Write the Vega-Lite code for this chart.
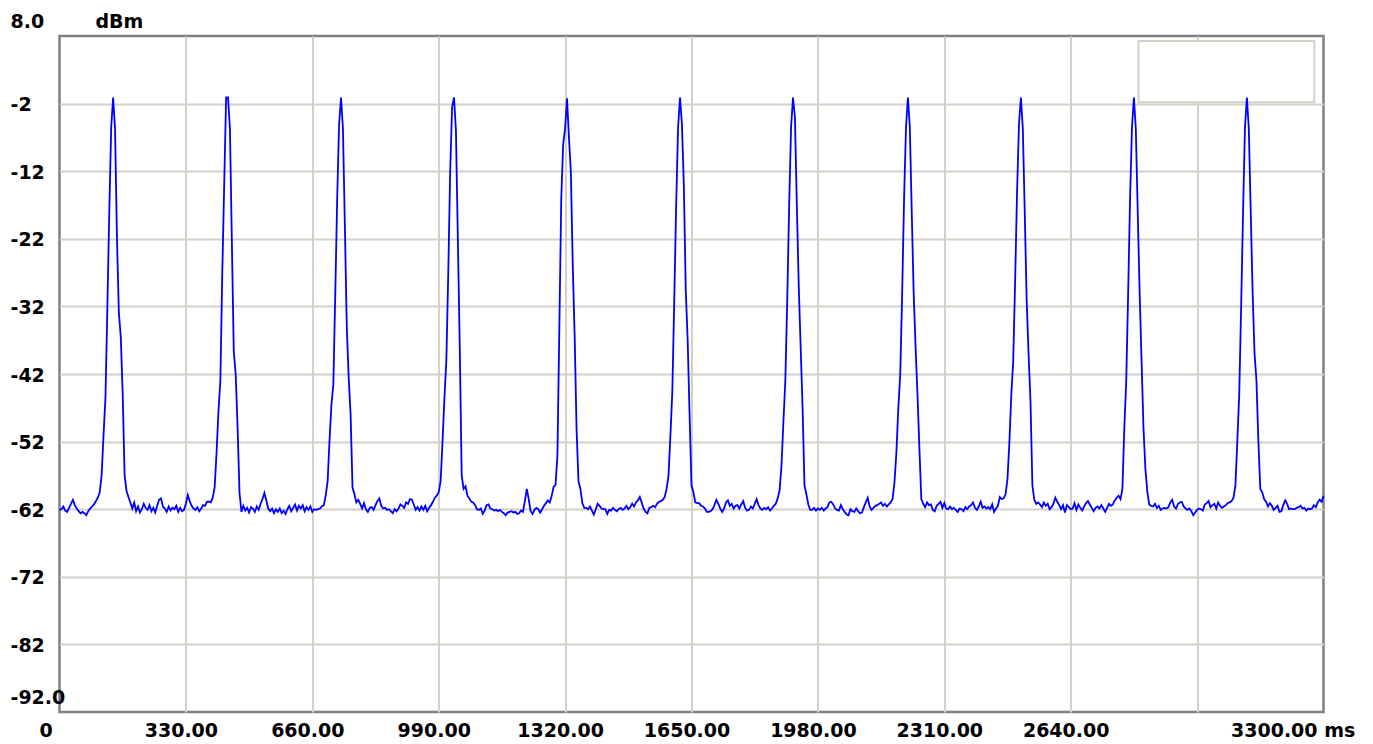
{
"$schema": "https://vega.github.io/schema/vega-lite/v6.json",
"width": 1264, "height": 676,
"autosize": {"type": "none"},
"padding": {"left": 59.5, "top": 36, "right": 49.5, "bottom": 32},
"background": "white",
"config": {"view": {"stroke": "#808080", "strokeWidth": 2.5}, "font": "DejaVu Sans"},
"datasets": {
"box": [{"t": 2817, "t2": 3276, "v": 7.26, "v2": -1.81}],
"sig": [
{"t":0,"v":-62.1},{"t":5,"v":-62.0},{"t":10,"v":-61.6},{"t":15,"v":-62.2},{"t":20,"v":-62.4},{"t":25,"v":-61.8},{"t":30,"v":-61.2},{"t":35,"v":-60.6},{"t":40,"v":-61.4},{"t":45,"v":-61.9},{"t":50,"v":-62.3},{"t":55,"v":-62.6},{"t":60,"v":-62.4},{"t":65,"v":-62.6},{"t":70,"v":-62.9},{"t":75,"v":-62.3},{"t":80,"v":-61.9},{"t":85,"v":-61.6},{"t":90,"v":-61.3},
{"t":95,"v":-60.8},{"t":100,"v":-60.3},{"t":105,"v":-59.5},{"t":110,"v":-57.0},{"t":115,"v":-51.0},{"t":120,"v":-45.5},{"t":125,"v":-32.0},{"t":130,"v":-18.0},{"t":135,"v":-5.5},{"t":140,"v":-1.1},{"t":145,"v":-5.7},{"t":150,"v":-21.8},{"t":155,"v":-33.0},{"t":160,"v":-36.5},{"t":165,"v":-45.0},{"t":170,"v":-57.0},{"t":175,"v":-59.3},{"t":180,"v":-60.2},{"t":185,"v":-61.0},
{"t":190,"v":-61.9},{"t":195,"v":-61.0},{"t":200,"v":-62.3},{"t":205,"v":-61.6},{"t":210,"v":-62.5},{"t":215,"v":-62.0},{"t":220,"v":-61.2},{"t":225,"v":-61.8},{"t":230,"v":-62.1},{"t":235,"v":-61.4},{"t":240,"v":-62.3},{"t":245,"v":-61.8},{"t":250,"v":-62.5},{"t":255,"v":-61.5},{"t":260,"v":-60.6},{"t":265,"v":-60.4},{"t":270,"v":-61.6},{"t":275,"v":-61.9},{"t":280,"v":-62.4},{"t":285,"v":-61.6},{"t":290,"v":-62.2},{"t":295,"v":-61.8},{"t":300,"v":-62.0},{"t":305,"v":-61.5},{"t":310,"v":-62.4},{"t":315,"v":-61.8},{"t":320,"v":-62.3},{"t":325,"v":-62.1},{"t":330,"v":-61.2},{"t":335,"v":-59.9},{"t":340,"v":-60.8},{"t":345,"v":-61.5},{"t":350,"v":-61.9},{"t":355,"v":-62.1},{"t":360,"v":-61.7},{"t":365,"v":-62.3},{"t":370,"v":-61.9},{"t":375,"v":-61.4},{"t":380,"v":-61.5},{"t":385,"v":-60.9},{"t":390,"v":-60.9},
{"t":395,"v":-61.0},{"t":400,"v":-60.3},{"t":405,"v":-58.8},{"t":410,"v":-53.7},{"t":415,"v":-47.5},{"t":420,"v":-43.0},{"t":425,"v":-27.0},{"t":430,"v":-14.0},{"t":435,"v":-1.1},{"t":440,"v":-1.1},{"t":445,"v":-5.7},{"t":450,"v":-22.4},{"t":455,"v":-38.7},{"t":460,"v":-42.0},{"t":465,"v":-50.0},{"t":470,"v":-59.6},{"t":475,"v":-62.4},{"t":480,"v":-61.5},{"t":485,"v":-62.2},
{"t":490,"v":-61.8},{"t":495,"v":-62.5},{"t":500,"v":-61.7},{"t":505,"v":-61.9},{"t":510,"v":-62.4},{"t":515,"v":-61.6},{"t":520,"v":-62.1},{"t":525,"v":-61.2},{"t":530,"v":-60.5},{"t":535,"v":-59.6},{"t":540,"v":-60.7},{"t":545,"v":-61.9},{"t":550,"v":-62.3},{"t":555,"v":-61.9},{"t":560,"v":-62.6},{"t":565,"v":-62.0},{"t":570,"v":-62.4},{"t":575,"v":-61.9},{"t":580,"v":-62.6},{"t":585,"v":-62.2},{"t":590,"v":-62.7},{"t":595,"v":-62.0},{"t":600,"v":-61.5},{"t":605,"v":-62.3},{"t":610,"v":-61.8},{"t":615,"v":-61.3},{"t":620,"v":-62.2},{"t":625,"v":-61.5},{"t":630,"v":-61.9},{"t":635,"v":-61.4},{"t":640,"v":-62.3},{"t":645,"v":-61.7},{"t":650,"v":-62.1},{"t":655,"v":-61.6},{"t":660,"v":-62.4},{"t":665,"v":-62.0},{"t":670,"v":-62.1},{"t":675,"v":-62.0},{"t":680,"v":-61.9},{"t":685,"v":-61.6},
{"t":690,"v":-61.4},{"t":695,"v":-60.0},{"t":700,"v":-57.9},{"t":705,"v":-51.8},{"t":710,"v":-46.5},{"t":715,"v":-43.5},{"t":720,"v":-30.0},{"t":725,"v":-16.0},{"t":730,"v":-5.0},{"t":735,"v":-1.1},{"t":740,"v":-5.7},{"t":745,"v":-20.0},{"t":750,"v":-35.0},{"t":755,"v":-42.5},{"t":760,"v":-48.0},{"t":765,"v":-58.8},{"t":770,"v":-59.8},{"t":775,"v":-61.0},{"t":780,"v":-60.6},
{"t":785,"v":-61.2},{"t":790,"v":-61.9},{"t":795,"v":-61.1},{"t":800,"v":-62.0},{"t":805,"v":-62.4},{"t":810,"v":-61.8},{"t":815,"v":-61.7},{"t":820,"v":-62.1},{"t":825,"v":-61.4},{"t":830,"v":-60.8},{"t":835,"v":-60.4},{"t":840,"v":-61.5},{"t":845,"v":-61.9},{"t":850,"v":-61.8},{"t":855,"v":-62.1},{"t":860,"v":-62.0},{"t":865,"v":-62.3},{"t":870,"v":-62.6},{"t":875,"v":-62.0},{"t":880,"v":-62.3},{"t":885,"v":-61.9},{"t":890,"v":-61.3},{"t":895,"v":-61.5},{"t":900,"v":-61.8},{"t":905,"v":-61.0},{"t":910,"v":-61.2},{"t":915,"v":-60.5},{"t":920,"v":-60.6},{"t":925,"v":-61.3},{"t":930,"v":-62.1},{"t":935,"v":-61.7},{"t":940,"v":-62.2},{"t":945,"v":-61.6},{"t":950,"v":-62.1},{"t":955,"v":-61.5},{"t":960,"v":-62.3},{"t":965,"v":-61.8},{"t":970,"v":-61.4},{"t":975,"v":-60.9},{"t":980,"v":-60.3},
{"t":985,"v":-60.0},{"t":990,"v":-59.5},{"t":995,"v":-57.9},{"t":1000,"v":-52.0},{"t":1005,"v":-45.5},{"t":1010,"v":-40.0},{"t":1015,"v":-27.0},{"t":1020,"v":-12.0},{"t":1025,"v":-2.5},{"t":1030,"v":-1.1},{"t":1035,"v":-6.0},{"t":1040,"v":-22.0},{"t":1045,"v":-38.0},{"t":1050,"v":-57.0},{"t":1055,"v":-59.0},{"t":1060,"v":-58.6},{"t":1065,"v":-60.0},{"t":1070,"v":-60.4},{"t":1075,"v":-60.9},
{"t":1080,"v":-61.0},{"t":1085,"v":-61.4},{"t":1090,"v":-62.0},{"t":1095,"v":-62.1},{"t":1100,"v":-61.9},{"t":1105,"v":-62.7},{"t":1110,"v":-62.2},{"t":1115,"v":-61.4},{"t":1120,"v":-61.3},{"t":1125,"v":-61.9},{"t":1130,"v":-62.0},{"t":1135,"v":-62.2},{"t":1140,"v":-62.1},{"t":1145,"v":-62.3},{"t":1150,"v":-62.1},{"t":1155,"v":-62.4},{"t":1160,"v":-62.6},{"t":1165,"v":-62.9},{"t":1170,"v":-62.5},{"t":1175,"v":-62.4},{"t":1180,"v":-62.3},{"t":1185,"v":-62.5},{"t":1190,"v":-62.4},{"t":1195,"v":-62.7},{"t":1200,"v":-62.6},{"t":1205,"v":-62.2},{"t":1210,"v":-62.4},{"t":1215,"v":-60.8},{"t":1220,"v":-59.0},{"t":1225,"v":-60.5},{"t":1230,"v":-62.3},{"t":1235,"v":-62.7},{"t":1240,"v":-62.1},{"t":1245,"v":-61.8},{"t":1250,"v":-62.0},{"t":1255,"v":-62.5},{"t":1260,"v":-62.0},{"t":1265,"v":-61.5},{"t":1270,"v":-61.1},{"t":1275,"v":-60.7},
{"t":1280,"v":-61.0},{"t":1285,"v":-60.0},{"t":1290,"v":-58.7},{"t":1295,"v":-58.4},{"t":1300,"v":-54.0},{"t":1305,"v":-35.0},{"t":1310,"v":-16.0},{"t":1315,"v":-8.0},{"t":1320,"v":-5.7},{"t":1325,"v":-1.2},{"t":1330,"v":-7.0},{"t":1335,"v":-12.0},{"t":1340,"v":-26.0},{"t":1345,"v":-36.5},{"t":1350,"v":-50.3},{"t":1355,"v":-57.9},{"t":1360,"v":-59.0},{"t":1365,"v":-61.1},{"t":1370,"v":-61.8},
{"t":1375,"v":-61.8},{"t":1380,"v":-62.0},{"t":1385,"v":-61.6},{"t":1390,"v":-62.2},{"t":1395,"v":-62.8},{"t":1400,"v":-62.0},{"t":1405,"v":-61.2},{"t":1410,"v":-61.5},{"t":1415,"v":-61.9},{"t":1420,"v":-62.0},{"t":1425,"v":-62.0},{"t":1430,"v":-62.7},{"t":1435,"v":-62.1},{"t":1440,"v":-62.2},{"t":1445,"v":-61.8},{"t":1450,"v":-62.1},{"t":1455,"v":-62.3},{"t":1460,"v":-62.0},{"t":1465,"v":-61.8},{"t":1470,"v":-62.1},{"t":1475,"v":-61.9},{"t":1480,"v":-61.5},{"t":1485,"v":-62.0},{"t":1490,"v":-61.7},{"t":1495,"v":-61.2},{"t":1500,"v":-61.6},{"t":1505,"v":-61.0},{"t":1510,"v":-60.7},{"t":1515,"v":-60.2},{"t":1520,"v":-61.0},{"t":1525,"v":-61.9},{"t":1530,"v":-62.4},{"t":1535,"v":-62.6},{"t":1540,"v":-61.8},{"t":1545,"v":-61.7},{"t":1550,"v":-61.5},{"t":1555,"v":-61.7},{"t":1560,"v":-61.2},{"t":1565,"v":-60.9},{"t":1570,"v":-60.8},
{"t":1575,"v":-60.6},{"t":1580,"v":-60.2},{"t":1585,"v":-59.0},{"t":1590,"v":-57.0},{"t":1595,"v":-51.0},{"t":1600,"v":-44.5},{"t":1605,"v":-31.0},{"t":1610,"v":-17.0},{"t":1615,"v":-5.5},{"t":1620,"v":-1.1},{"t":1625,"v":-5.0},{"t":1630,"v":-14.0},{"t":1635,"v":-29.5},{"t":1640,"v":-37.0},{"t":1645,"v":-48.0},{"t":1650,"v":-58.5},{"t":1655,"v":-59.5},{"t":1660,"v":-61.0},{"t":1665,"v":-61.1},
{"t":1670,"v":-61.1},{"t":1675,"v":-61.5},{"t":1680,"v":-61.6},{"t":1685,"v":-61.9},{"t":1690,"v":-62.4},{"t":1695,"v":-62.4},{"t":1700,"v":-62.3},{"t":1705,"v":-62.0},{"t":1710,"v":-61.4},{"t":1715,"v":-60.6},{"t":1720,"v":-61.2},{"t":1725,"v":-61.9},{"t":1730,"v":-62.4},{"t":1735,"v":-61.9},{"t":1740,"v":-61.0},{"t":1745,"v":-60.7},{"t":1750,"v":-61.5},{"t":1755,"v":-61.2},{"t":1760,"v":-61.9},{"t":1765,"v":-61.5},{"t":1770,"v":-61.4},{"t":1775,"v":-61.9},{"t":1780,"v":-61.3},{"t":1785,"v":-60.8},{"t":1790,"v":-61.8},{"t":1795,"v":-62.2},{"t":1800,"v":-62.1},{"t":1805,"v":-61.6},{"t":1810,"v":-61.9},{"t":1815,"v":-61.2},{"t":1820,"v":-60.5},{"t":1825,"v":-61.4},{"t":1830,"v":-61.9},{"t":1835,"v":-62.1},{"t":1840,"v":-61.8},{"t":1845,"v":-62.0},{"t":1850,"v":-61.7},{"t":1855,"v":-62.2},{"t":1860,"v":-61.9},{"t":1865,"v":-61.5},
{"t":1870,"v":-61.2},{"t":1875,"v":-60.4},{"t":1880,"v":-59.2},{"t":1885,"v":-55.5},{"t":1890,"v":-49.0},{"t":1895,"v":-43.0},{"t":1900,"v":-31.0},{"t":1905,"v":-17.0},{"t":1910,"v":-5.5},{"t":1915,"v":-1.1},{"t":1920,"v":-4.0},{"t":1925,"v":-17.0},{"t":1930,"v":-29.0},{"t":1935,"v":-38.0},{"t":1940,"v":-47.0},{"t":1945,"v":-58.5},{"t":1950,"v":-59.8},{"t":1955,"v":-61.3},{"t":1960,"v":-62.1},
{"t":1965,"v":-62.1},{"t":1970,"v":-61.8},{"t":1975,"v":-62.2},{"t":1980,"v":-61.9},{"t":1985,"v":-62.1},{"t":1990,"v":-61.8},{"t":1995,"v":-62.2},{"t":2000,"v":-61.9},{"t":2005,"v":-61.7},{"t":2010,"v":-61.0},{"t":2015,"v":-60.9},{"t":2020,"v":-61.3},{"t":2025,"v":-61.9},{"t":2030,"v":-62.1},{"t":2035,"v":-62.2},{"t":2040,"v":-61.4},{"t":2045,"v":-62.0},{"t":2050,"v":-62.4},{"t":2055,"v":-62.8},{"t":2060,"v":-62.9},{"t":2065,"v":-62.0},{"t":2070,"v":-62.3},{"t":2075,"v":-62.4},{"t":2080,"v":-61.9},{"t":2085,"v":-62.3},{"t":2090,"v":-62.6},{"t":2095,"v":-62.5},{"t":2100,"v":-61.7},{"t":2105,"v":-61.0},{"t":2110,"v":-60.3},{"t":2115,"v":-61.6},{"t":2120,"v":-62.1},{"t":2125,"v":-61.8},{"t":2130,"v":-61.5},{"t":2135,"v":-61.4},{"t":2140,"v":-61.2},{"t":2145,"v":-61.0},{"t":2150,"v":-61.5},{"t":2155,"v":-61.2},{"t":2160,"v":-61.6},{"t":2165,"v":-61.3},
{"t":2170,"v":-61.0},{"t":2175,"v":-60.5},{"t":2180,"v":-58.0},{"t":2185,"v":-53.5},{"t":2190,"v":-47.0},{"t":2195,"v":-42.0},{"t":2200,"v":-30.0},{"t":2205,"v":-16.0},{"t":2210,"v":-5.5},{"t":2215,"v":-1.1},{"t":2220,"v":-5.5},{"t":2225,"v":-18.0},{"t":2230,"v":-30.0},{"t":2235,"v":-38.0},{"t":2240,"v":-45.0},{"t":2245,"v":-53.0},{"t":2250,"v":-60.5},{"t":2255,"v":-61.2},{"t":2260,"v":-61.7},
{"t":2265,"v":-61.0},{"t":2270,"v":-61.4},{"t":2275,"v":-61.3},{"t":2280,"v":-62.1},{"t":2285,"v":-62.3},{"t":2290,"v":-61.5},{"t":2295,"v":-61.2},{"t":2300,"v":-60.9},{"t":2305,"v":-61.8},{"t":2310,"v":-61.1},{"t":2315,"v":-61.9},{"t":2320,"v":-62.0},{"t":2325,"v":-61.6},{"t":2330,"v":-62.0},{"t":2335,"v":-61.8},{"t":2340,"v":-62.1},{"t":2345,"v":-62.4},{"t":2350,"v":-61.9},{"t":2355,"v":-62.0},{"t":2360,"v":-62.3},{"t":2365,"v":-61.7},{"t":2370,"v":-62.0},{"t":2375,"v":-61.6},{"t":2380,"v":-61.4},{"t":2385,"v":-61.0},{"t":2390,"v":-61.8},{"t":2395,"v":-62.1},{"t":2400,"v":-61.6},{"t":2405,"v":-60.9},{"t":2410,"v":-61.8},{"t":2415,"v":-61.6},{"t":2420,"v":-61.9},{"t":2425,"v":-61.7},{"t":2430,"v":-62.0},{"t":2435,"v":-61.3},{"t":2440,"v":-62.4},{"t":2445,"v":-61.9},{"t":2450,"v":-61.5},{"t":2455,"v":-60.2},{"t":2460,"v":-60.5},
{"t":2465,"v":-60.4},{"t":2470,"v":-59.8},{"t":2475,"v":-57.5},{"t":2480,"v":-52.0},{"t":2485,"v":-45.0},{"t":2490,"v":-40.0},{"t":2495,"v":-28.0},{"t":2500,"v":-15.0},{"t":2505,"v":-5.0},{"t":2510,"v":-1.1},{"t":2515,"v":-5.7},{"t":2520,"v":-18.0},{"t":2525,"v":-31.0},{"t":2530,"v":-39.0},{"t":2535,"v":-46.0},{"t":2540,"v":-58.5},{"t":2545,"v":-60.6},{"t":2550,"v":-61.2},{"t":2555,"v":-61.0},
{"t":2560,"v":-61.3},{"t":2565,"v":-61.7},{"t":2570,"v":-61.0},{"t":2575,"v":-61.5},{"t":2580,"v":-61.2},{"t":2585,"v":-62.0},{"t":2590,"v":-61.7},{"t":2595,"v":-61.2},{"t":2600,"v":-60.3},{"t":2605,"v":-60.9},{"t":2610,"v":-61.4},{"t":2615,"v":-62.0},{"t":2620,"v":-61.4},{"t":2625,"v":-62.5},{"t":2630,"v":-61.4},{"t":2635,"v":-61.7},{"t":2640,"v":-62.0},{"t":2645,"v":-61.9},{"t":2650,"v":-61.1},{"t":2655,"v":-62.1},{"t":2660,"v":-61.3},{"t":2665,"v":-61.8},{"t":2670,"v":-62.2},{"t":2675,"v":-61.6},{"t":2680,"v":-61.1},{"t":2685,"v":-60.8},{"t":2690,"v":-61.3},{"t":2695,"v":-61.8},{"t":2700,"v":-62.3},{"t":2705,"v":-61.8},{"t":2710,"v":-61.6},{"t":2715,"v":-61.9},{"t":2720,"v":-61.4},{"t":2725,"v":-61.9},{"t":2730,"v":-62.4},{"t":2735,"v":-61.8},{"t":2740,"v":-61.2},{"t":2745,"v":-61.5},{"t":2750,"v":-61.3},{"t":2755,"v":-60.7},
{"t":2760,"v":-60.3},{"t":2765,"v":-60.0},{"t":2770,"v":-60.5},{"t":2775,"v":-59.0},{"t":2780,"v":-50.0},{"t":2785,"v":-43.0},{"t":2790,"v":-30.0},{"t":2795,"v":-16.0},{"t":2800,"v":-5.5},{"t":2805,"v":-1.1},{"t":2810,"v":-5.7},{"t":2815,"v":-18.0},{"t":2820,"v":-30.0},{"t":2825,"v":-40.0},{"t":2830,"v":-50.0},{"t":2835,"v":-56.0},{"t":2840,"v":-59.4},{"t":2845,"v":-61.3},{"t":2850,"v":-61.5},
{"t":2855,"v":-61.6},{"t":2860,"v":-61.2},{"t":2865,"v":-61.8},{"t":2870,"v":-61.5},{"t":2875,"v":-62.1},{"t":2880,"v":-61.9},{"t":2885,"v":-61.8},{"t":2890,"v":-61.9},{"t":2895,"v":-61.7},{"t":2900,"v":-61.0},{"t":2905,"v":-60.6},{"t":2910,"v":-61.6},{"t":2915,"v":-61.9},{"t":2920,"v":-61.2},{"t":2925,"v":-61.0},{"t":2930,"v":-60.9},{"t":2935,"v":-61.6},{"t":2940,"v":-61.9},{"t":2945,"v":-62.1},{"t":2950,"v":-61.9},{"t":2955,"v":-62.3},{"t":2960,"v":-62.9},{"t":2965,"v":-62.5},{"t":2970,"v":-62.1},{"t":2975,"v":-61.9},{"t":2980,"v":-62.0},{"t":2985,"v":-62.2},{"t":2990,"v":-61.3},{"t":2995,"v":-61.1},{"t":3000,"v":-60.8},{"t":3005,"v":-61.7},{"t":3010,"v":-61.4},{"t":3015,"v":-61.2},{"t":3020,"v":-61.9},{"t":3025,"v":-61.0},{"t":3030,"v":-61.5},{"t":3035,"v":-61.8},{"t":3040,"v":-61.6},{"t":3045,"v":-61.4},{"t":3050,"v":-61.1},
{"t":3055,"v":-61.0},{"t":3060,"v":-60.8},{"t":3065,"v":-60.3},{"t":3070,"v":-58.5},{"t":3075,"v":-52.0},{"t":3080,"v":-45.0},{"t":3085,"v":-32.0},{"t":3090,"v":-18.0},{"t":3095,"v":-5.5},{"t":3100,"v":-1.1},{"t":3105,"v":-5.7},{"t":3110,"v":-18.0},{"t":3115,"v":-30.0},{"t":3120,"v":-39.0},{"t":3125,"v":-43.0},{"t":3130,"v":-52.0},{"t":3135,"v":-59.0},{"t":3140,"v":-59.5},{"t":3145,"v":-60.5},
{"t":3150,"v":-60.9},{"t":3155,"v":-61.6},{"t":3160,"v":-61.1},{"t":3165,"v":-61.5},{"t":3170,"v":-62.1},{"t":3175,"v":-61.8},{"t":3180,"v":-61.5},{"t":3185,"v":-62.4},{"t":3190,"v":-62.3},{"t":3195,"v":-61.4},{"t":3200,"v":-60.7},{"t":3205,"v":-61.2},{"t":3210,"v":-62.0},{"t":3215,"v":-61.9},{"t":3220,"v":-62.0},{"t":3225,"v":-62.0},{"t":3230,"v":-61.8},{"t":3235,"v":-61.7},{"t":3240,"v":-61.5},{"t":3245,"v":-61.9},{"t":3250,"v":-61.8},{"t":3255,"v":-62.2},{"t":3260,"v":-61.9},{"t":3265,"v":-62.0},{"t":3270,"v":-61.9},{"t":3275,"v":-61.4},{"t":3280,"v":-61.7},{"t":3285,"v":-61.0},{"t":3290,"v":-60.6},{"t":3295,"v":-60.9},{"t":3300,"v":-60.0}
]
},
"encoding": {
"x": {"field": "t", "type": "quantitative",
 "scale": {"domain": [0, 3300], "nice": false, "zero": false},
 "axis": {
  "values": [0, 330, 660, 990, 1320, 1650, 1980, 2310, 2640, 2970, 3300],
  "labelExpr": "datum.value==0?'0':(datum.value==3300?'3300.00 ms':(datum.value==2970?'':format(datum.value,'.2f')))",
  "domain": false, "ticks": false, "tickSize": 0,
  "grid": true, "gridColor": "#d4d0c8", "gridWidth": 2,
  "gridOpacity": {"condition": {"test": "datum.value==0 || datum.value==3300", "value": 0}, "value": 1},
  "labelAlign": {"condition": {"test": "datum.value==3300", "value": "left"}, "value": "center"},
  "labelOffset": {"condition": [{"test": "datum.value==0", "value": -14}, {"test": "datum.value==3300", "value": -93}], "value": -5},
  "labelPadding": 18, "labelBaseline": "middle",
  "labelFont": "DejaVu Sans", "labelFontWeight": "bold", "labelFontSize": 19, "labelColor": "#000000",
  "labelOverlap": false, "labelFlush": false, "labelBound": false,
  "title": null
 }
},
"y": {"field": "v", "type": "quantitative",
 "scale": {"domain": [-92, 8], "nice": false, "zero": false},
 "axis": {
  "values": [8, -2, -12, -22, -32, -42, -52, -62, -72, -82, -92],
  "labelExpr": "datum.value==8?'8.0':(datum.value==-92?'-92.0':''+datum.value)",
  "domain": false, "ticks": false, "tickSize": 0,
  "grid": true, "gridColor": "#d4d0c8", "gridWidth": 2,
  "gridOpacity": {"condition": {"test": "datum.value==8 || datum.value==-92", "value": 0}, "value": 1},
  "labelAlign": "left", "labelPadding": 49.5, "labelBaseline": "middle",
  "labelOffset": {"condition": {"test": "datum.value==8 || datum.value==-92", "value": -15}, "value": 1},
  "labelFont": "DejaVu Sans", "labelFontWeight": "bold", "labelFontSize": 19, "labelColor": "#000000",
  "labelOverlap": false, "labelFlush": false, "labelBound": false,
  "title": "dBm", "titleAngle": 0, "titleAlign": "left", "titleBaseline": "middle",
  "titleX": 35.5, "titleY": -15,
  "titleFont": "DejaVu Sans", "titleFontWeight": "bold", "titleFontSize": 19, "titleColor": "#000000"
 }
}
},
"layer": [
{"data": {"name": "box"},
 "mark": {"type": "rect", "fill": "white", "stroke": "#d4d0c8", "strokeWidth": 2},
 "encoding": {"x2": {"field": "t2"}, "y2": {"field": "v2"}}},
{"data": {"name": "sig"},
 "mark": {"type": "line", "color": "#0000ff", "strokeWidth": 1.8, "interpolate": "linear"}}
]
}
